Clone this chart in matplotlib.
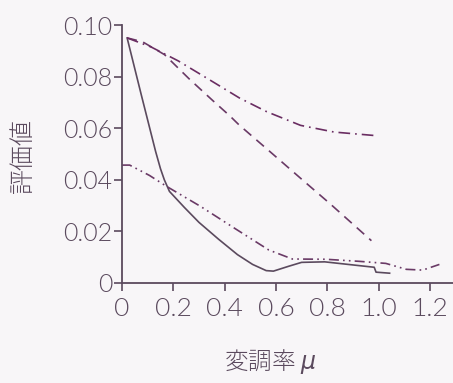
import numpy as np
import matplotlib
matplotlib.use('Agg')
import matplotlib.pyplot as plt

plt.rcParams['font.family'] = ['Noto Sans CJK JP', 'DejaVu Sans']

# solid curve
x_solid = [0.02, 0.075, 0.131, 0.150, 0.165, 0.185, 0.243, 0.30, 0.376, 0.45, 0.509,
           0.562, 0.59, 0.65, 0.70, 0.79, 0.90, 0.983, 0.99, 1.043]
y_solid = [0.095, 0.073, 0.051, 0.0443, 0.0400, 0.0355, 0.0293, 0.0235, 0.017, 0.011, 0.0072,
           0.0048, 0.0046, 0.0065, 0.0080, 0.0082, 0.0070, 0.0061, 0.0042, 0.0038]

# dashed curve
x_dash = [0.02, 0.08, 0.166, 0.261, 0.355, 0.42, 0.456, 0.570, 0.704, 0.81, 0.972]
y_dash = [0.095, 0.0935, 0.0885, 0.0792, 0.0706, 0.0648, 0.0613, 0.0515, 0.0399, 0.0308, 0.0164]

# upper dash-dot curve
x_dd = [0.02, 0.113, 0.219, 0.339, 0.458, 0.564, 0.696, 0.827, 0.98]
y_dd = [0.095, 0.0915, 0.0861, 0.0789, 0.0717, 0.0664, 0.0611, 0.0585, 0.0572]

# lower dash-dot-dot curve
x_ddd = [0.0, 0.03, 0.107, 0.173, 0.306, 0.439, 0.572, 0.664, 0.794, 0.924,
         1.028, 1.108, 1.172, 1.237]
y_ddd = [0.0457, 0.0457, 0.0417, 0.0375, 0.0297, 0.0212, 0.0128, 0.0093, 0.0092, 0.0084,
         0.0076, 0.0053, 0.0050, 0.0072]

xticks = [0, 0.2, 0.4, 0.6, 0.8, 1.0, 1.2]
xtick_labels = ['0', '0.2', '0.4', '0.6', '0.8', '1.0', '1.2']
yticks = [0, 0.02, 0.04, 0.06, 0.08, 0.10]
ytick_labels = ['0', '0.02', '0.04', '0.06', '0.08', '0.10']

ink = '#5b4a5e'
bg = '#f8f6f8'

fig = plt.figure(figsize=(4.53, 3.83), dpi=100)
fig.patch.set_facecolor(bg)
ax = fig.add_axes([0.2693, 0.2611, 0.7307, 0.6736])
ax.set_facecolor(bg)

ax.plot(x_solid, y_solid, c=ink, lw=1.2)
ax.plot(x_dash, y_dash, c='#6a3a66', lw=1.2, dashes=(6, 4))
ax.plot(x_dd, y_dd, c='#6a2d62', lw=1.2, dashes=(7, 3, 1, 3))
ax.plot(x_ddd, y_ddd, c='#6a3a66', lw=1.2, dashes=(6, 2.5, 1, 2.5, 1, 2.5))

ax.set_xlim(0, 1.29)
ax.set_ylim(0, 0.10)

ax.spines['top'].set_visible(False)
ax.spines['right'].set_visible(False)
for s in ['left', 'bottom']:
    ax.spines[s].set_color(ink)
    ax.spines[s].set_linewidth(1.3)

ax.set_xticks(xticks)
ax.set_xticklabels(xtick_labels)
ax.set_yticks(yticks)
ax.set_yticklabels(ytick_labels)
ax.tick_params(axis='both', colors=ink, length=6, width=1.2, direction='out')
ax.tick_params(axis='x', pad=4)
ax.tick_params(axis='y', pad=1)
for lab in ax.get_xticklabels():
    lab.set_family(['Lato', 'DejaVu Sans'])
    lab.set_fontweight(300)
    lab.set_fontsize(19)
for lab in ax.get_yticklabels():
    lab.set_family(['Lato', 'DejaVu Sans'])
    lab.set_fontweight(300)
    lab.set_fontsize(18)

fig.text(0.05, 0.593, '評価値', rotation=90, ha='center', va='center',
         fontsize=18, color=ink, fontweight='light')
fig.text(0.596, 0.055, '変調率 $\\mu$', ha='center', va='center',
         fontsize=17, color=ink, fontweight='light')

plt.savefig('out.png', dpi=100, facecolor=bg)
